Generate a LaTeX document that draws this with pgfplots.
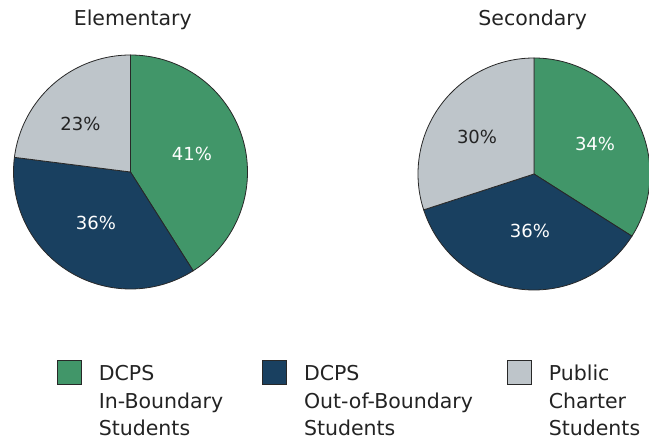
\documentclass[border=0pt]{standalone}
\usepackage{fontspec}
\setmainfont{DejaVu Sans}
\usepackage{pgfplots}
\pgfplotsset{compat=1.18}
\definecolor{cgreen}{RGB}{65,150,105}
\definecolor{cnavy}{RGB}{25,64,96}
\definecolor{cgray}{RGB}{190,197,202}
\definecolor{cedge}{RGB}{40,40,40}
\definecolor{ctext}{RGB}{35,35,35}
% data (percent)
\def\EA{41}\def\EB{36}\def\EC{23}
\def\SA{34}\def\SB{36}\def\SC{30}
\begin{document}
\begin{tikzpicture}
\pgfmathsetmacro{\Ea}{90-3.6*\EA}
\pgfmathsetmacro{\Eb}{\Ea-3.6*\EB}
\pgfmathsetmacro{\Ec}{\Eb-3.6*\EC}
\pgfmathsetmacro{\Sa}{90-3.6*\SA}
\pgfmathsetmacro{\Sb}{\Sa-3.6*\SB}
\pgfmathsetmacro{\Sc}{\Sb-3.6*\SC}
\begin{axis}[
  width=649pt, height=444pt, scale only axis,
  xmin=0, xmax=649, ymin=0, ymax=444,
  hide axis, clip=false,
  legend image code/.code={\draw[#1, line width=0.8pt] (0pt,17pt) rectangle (24pt,41pt);},
  legend columns=3,
  legend cell align=left,
  legend style={at={(axis cs:57,84)}, anchor=north west, draw=none, fill=none,
    inner sep=0pt, outer sep=0pt,
    font=\fontsize{20.5}{27.5}\selectfont, text=ctext,
    nodes={align=left, inner sep=0pt},
    /tikz/column 1/.style={column sep=17pt},
    /tikz/column 2/.style={column sep=39pt},
    /tikz/column 3/.style={column sep=17pt},
    /tikz/column 4/.style={column sep=34pt},
    /tikz/column 5/.style={column sep=17pt},
  },
]
% Elementary
\addplot[fill=cgreen, draw=cedge, line width=0.8pt, domain=90:\Ea, samples=120, variable=\t]
  ({130.5+117*cos(\t)},{272+117*sin(\t)}) -- (130.5,272) -- cycle;
\addlegendentry{DCPS\\In-Boundary\\Students}
\addplot[fill=cnavy, draw=cedge, line width=0.8pt, domain=\Ea:\Eb, samples=120, variable=\t]
  ({130.5+117*cos(\t)},{272+117*sin(\t)}) -- (130.5,272) -- cycle;
\addlegendentry{DCPS\\Out-of-Boundary\\Students}
\addplot[fill=cgray, draw=cedge, line width=0.8pt, domain=\Eb:\Ec, samples=120, variable=\t]
  ({130.5+117*cos(\t)},{272+117*sin(\t)}) -- (130.5,272) -- cycle;
\addlegendentry{Public\\Charter\\Students}
% Secondary
\addplot[forget plot, fill=cgreen, draw=cedge, line width=0.8pt, domain=90:\Sa, samples=120, variable=\t]
  ({534+116*cos(\t)},{270+116*sin(\t)}) -- (534,270) -- cycle;
\addplot[forget plot, fill=cnavy, draw=cedge, line width=0.8pt, domain=\Sa:\Sb, samples=120, variable=\t]
  ({534+116*cos(\t)},{270+116*sin(\t)}) -- (534,270) -- cycle;
\addplot[forget plot, fill=cgray, draw=cedge, line width=0.8pt, domain=\Sb:\Sc, samples=120, variable=\t]
  ({534+116*cos(\t)},{270+116*sin(\t)}) -- (534,270) -- cycle;
% titles
\node[font=\fontsize{20.5}{24}\selectfont, text=ctext, anchor=base] at (axis cs:132.8,418.3) {Elementary};
\node[font=\fontsize{20.5}{24}\selectfont, text=ctext, anchor=base] at (axis cs:532.7,418.3) {Secondary};
% labels
\node[font=\fontsize{18}{20}\selectfont, text=white] at (axis cs:192,290) {\EA\%};
\node[font=\fontsize{18}{20}\selectfont, text=white] at (axis cs:96,221) {\EB\%};
\node[font=\fontsize{18}{20}\selectfont, text=ctext] at (axis cs:80.5,320) {\EC\%};
\node[font=\fontsize{18}{20}\selectfont, text=white] at (axis cs:595,300) {\SA\%};
\node[font=\fontsize{18}{20}\selectfont, text=white] at (axis cs:530,213) {\SB\%};
\node[font=\fontsize{18}{20}\selectfont, text=ctext] at (axis cs:477,307) {\SC\%};
\end{axis}
\pgfresetboundingbox
\path (0,0) rectangle (649pt,444pt);
\end{tikzpicture}
\end{document}
